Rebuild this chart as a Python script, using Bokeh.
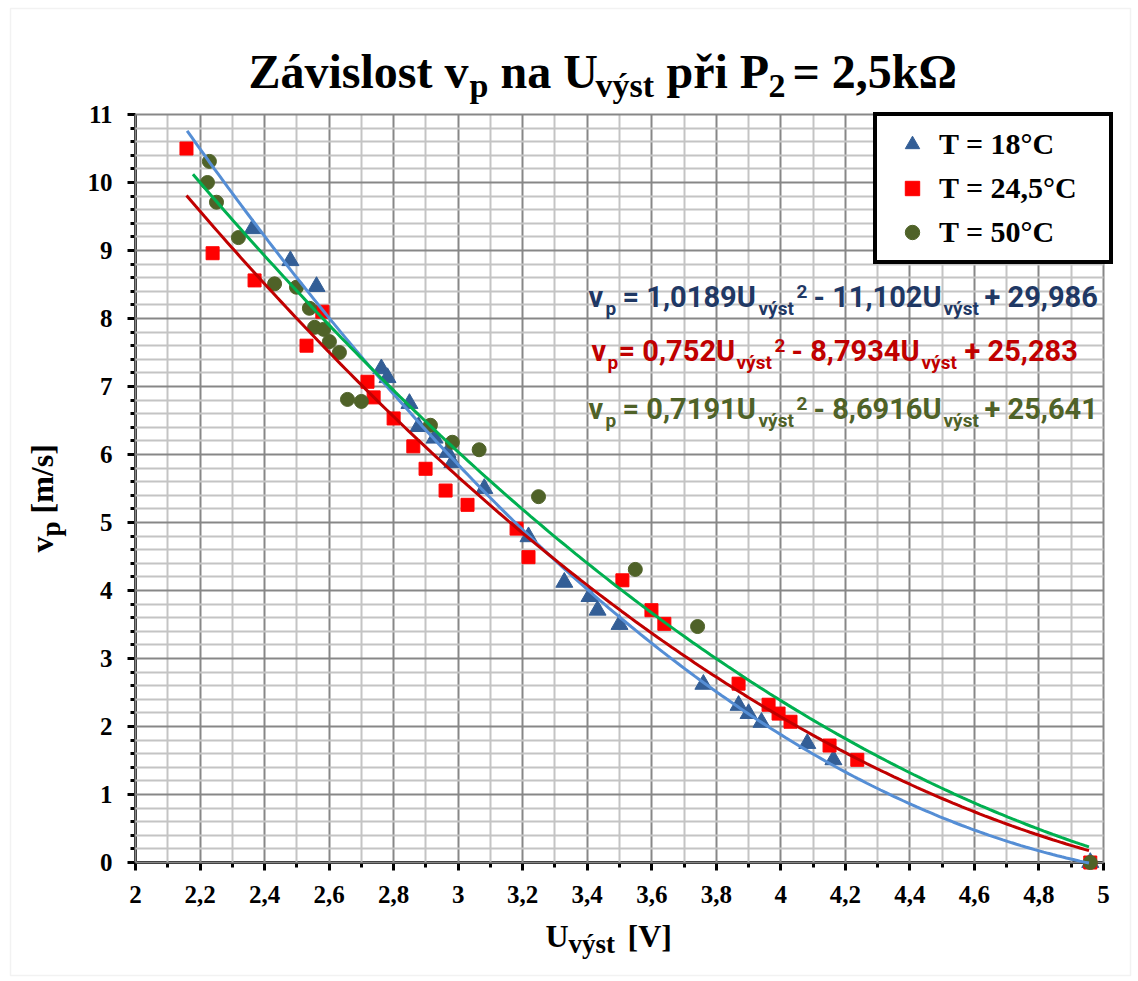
import numpy as np
from bokeh.plotting import figure
from bokeh.models import (Range1d, FixedTicker, Label, Legend, LegendItem, LinearAxis, Grid,
                          BoxAnnotation)
from bokeh.embed import file_html
from bokeh.resources import INLINE

# ---------------- data ----------------
u_18 = [2.363, 2.480, 2.561, 2.762, 2.781, 2.849, 2.877, 2.927, 2.967, 2.982, 3.081,
        3.218, 3.329, 3.407, 3.432, 3.500, 3.760, 3.869, 3.900, 3.940, 4.082, 4.163, 4.959]
v_18 = [9.32, 8.85, 8.47, 7.26, 7.13, 6.75, 6.41, 6.24, 6.03, 5.88, 5.50,
        4.79, 4.12, 3.91, 3.71, 3.50, 2.62, 2.31, 2.19, 2.06, 1.75, 1.51, 0.0]

u_245 = [2.158, 2.239, 2.369, 2.579, 2.530, 2.719, 2.738, 2.800, 2.861, 2.899, 2.961, 3.029,
         3.181, 3.218, 3.509, 3.599, 3.639, 3.869, 3.962, 3.993, 4.030, 4.151, 4.237, 4.959]
v_245 = [10.50, 8.96, 8.56, 8.10, 7.60, 7.07, 6.84, 6.53, 6.12, 5.79, 5.47, 5.26,
         4.91, 4.49, 4.15, 3.71, 3.51, 2.63, 2.32, 2.19, 2.07, 1.72, 1.51, 0.0]

u_50 = [2.229, 2.223, 2.251, 2.319, 2.431, 2.499, 2.539, 2.555, 2.583, 2.601, 2.632,
        2.657, 2.700, 2.914, 2.982, 3.065, 3.249, 3.549, 3.742, 4.959]
v_50 = [10.31, 10.00, 9.71, 9.19, 8.51, 8.46, 8.15, 7.87, 7.84, 7.66, 7.50,
        6.81, 6.78, 6.43, 6.18, 6.07, 5.38, 4.31, 3.47, 0.0]

# quadratic trendline coefficients as printed on the chart
coef_18 = [1.0189, -11.102, 29.986]
coef_245 = [0.752, -8.7934, 25.283]
coef_50 = [0.7191, -8.6916, 25.641]
span_18 = [2.160, 4.955]
span_245 = [2.158, 4.955]
span_50 = [2.178, 4.955]

series_names = ["T = 18°C", "T = 24,5°C", "T = 50°C"]

x_ticks = [2.0, 2.2, 2.4, 2.6, 2.8, 3.0, 3.2, 3.4, 3.6, 3.8, 4.0, 4.2, 4.4, 4.6, 4.8, 5.0]
x_tick_labels = ["2", "2,2", "2,4", "2,6", "2,8", "3", "3,2", "3,4", "3,6", "3,8",
                 "4", "4,2", "4,4", "4,6", "4,8", "5"]
x_minor_ticks = [2.1, 2.3, 2.5, 2.7, 2.9, 3.1, 3.3, 3.5, 3.7, 3.9, 4.1, 4.3, 4.5, 4.7, 4.9]
y_ticks = [0, 1, 2, 3, 4, 5, 6, 7, 8, 9, 10, 11]
y_tick_labels = ["0", "1", "2", "3", "4", "5", "6", "7", "8", "9", "10", "11"]
y_minor_ticks = [round(i * 0.2, 1) for i in range(56) if i % 5 != 0]
x_bounds = (2, 5)
y_bounds = (0, 11)

# ---------------- colours / fonts ----------------
C_TRI = "#335E96"
C_SQ = "#FF0000"
C_CIR = "#4F6228"
L_BLUE = "#558ED5"
L_RED = "#C00000"
L_GREEN = "#00B050"
T_BLUE = "#1F3864"
T_RED = "#C00000"
T_GREEN = "#4F6228"
SERIF = "Liberation Serif"
SANS = "Roboto"

# ---------------- page pixel <-> data mapping ----------------
W, H = 1138, 981
PX0, PX1, PY0, PY1 = 135.0, 1103.0, 862.0, 114.0


def dx(px):
    return x_bounds[0] + (px - PX0) * (x_bounds[1] - x_bounds[0]) / (PX1 - PX0)


def dy(py):
    return y_bounds[0] + (py - PY0) * (y_bounds[1] - y_bounds[0]) / (PY1 - PY0)


p = figure(width=W, height=H, min_border=0, min_border_left=0, min_border_right=0,
           min_border_top=0, min_border_bottom=0,
           x_range=Range1d(dx(0), dx(W)), y_range=Range1d(dy(H), dy(0)),
           x_axis_location=None, y_axis_location=None,
           output_backend="svg", toolbar_location=None,
           background_fill_color="white", border_fill_color="white")
p.title = None
p.outline_line_color = None
p.xgrid.visible = False
p.ygrid.visible = False

xaxis = LinearAxis(fixed_location=y_bounds[0], bounds=x_bounds,
                   ticker=FixedTicker(ticks=x_ticks, minor_ticks=x_minor_ticks))
yaxis = LinearAxis(fixed_location=x_bounds[0], bounds=y_bounds,
                   ticker=FixedTicker(ticks=y_ticks, minor_ticks=y_minor_ticks))

xgrid = Grid(dimension=0, ticker=xaxis.ticker, bounds=x_bounds, cross_bounds=y_bounds)
ygrid = Grid(dimension=1, ticker=yaxis.ticker, bounds=y_bounds, cross_bounds=x_bounds)
for g in (xgrid, ygrid):
    g.grid_line_color = "#878787"
    g.grid_line_width = 2
    g.minor_grid_line_color = "#c4c4c4"
    g.minor_grid_line_width = 2
    p.add_layout(g)

for ax, ticks, labels in ((xaxis, x_ticks, x_tick_labels), (yaxis, y_ticks, y_tick_labels)):
    ax.major_label_overrides = {t: l for t, l in zip(ticks, labels)}
    ax.axis_line_color = "black"
    ax.axis_line_width = 3
    ax.major_tick_line_color = "black"
    ax.major_tick_line_width = 3
    ax.minor_tick_line_color = "black"
    ax.minor_tick_line_width = 3
    ax.major_tick_in = 0
    ax.minor_tick_in = 0
    ax.major_tick_out = 8
    ax.minor_tick_out = 5
    ax.major_label_text_font = SERIF
    ax.major_label_text_font_style = "bold"
    ax.major_label_text_font_size = "25px"
    ax.major_label_text_color = "black"
    ax.major_label_standoff = 15
    ax.level = "underlay"
p.add_layout(xaxis, "below")
p.add_layout(yaxis, "left")

# outer chart border
p.add_layout(BoxAnnotation(left=dx(10), right=dx(1130), top=dy(8), bottom=dy(975),
                           fill_alpha=0, line_color="#d4d4d4", line_width=1.5, level="underlay"))

# markers
r18 = p.scatter(u_18, v_18, marker="triangle", size=17, fill_color=C_TRI, line_color=C_TRI)
r245 = p.scatter(u_245, v_245, marker="square", size=13, fill_color=C_SQ, line_color=C_SQ)
r50 = p.scatter(u_50, v_50, marker="circle", size=14, fill_color=C_CIR, line_color=C_CIR)

# trendlines (from the printed equations)
for coef, span, col in ((coef_18, span_18, L_BLUE), (coef_245, span_245, L_RED), (coef_50, span_50, L_GREEN)):
    xs = np.linspace(span[0], span[1], 200)
    p.line(xs, np.polyval(coef, xs), line_color=col, line_width=3)

LEG_W, LEG_H = 232, 150
legend = Legend(items=[LegendItem(label=series_names[0], renderers=[r18]),
                       LegendItem(label=series_names[1], renderers=[r245]),
                       LegendItem(label=series_names[2], renderers=[r50])],
                location=(PX1 + 2 - LEG_W, H - (PY1 + LEG_H)), margin=0, padding=10, spacing=8,
                glyph_width=50, glyph_height=36, label_height=36, label_standoff=2,
                label_width=160,
                label_text_font=SERIF, label_text_font_style="bold", label_text_font_size="30px",
                label_text_baseline="middle", label_text_color="black",
                border_line_color="black", border_line_width=4, border_line_alpha=1.0,
                background_fill_color="white", background_fill_alpha=1.0)
p.add_layout(legend)


def lab(px, base, text, size, color, font, vertical=False):
    """Place text so that its alphabetic baseline sits at page pixel `base`."""
    mid = base - 0.34 * size
    if vertical:
        x, y, ang = dx(mid), dy(px), np.pi / 2
    else:
        x, y, ang = dx(px), dy(mid), 0.0
    p.add_layout(Label(x=x, y=y, text=text, text_font=font,
                       text_font_size=f"{size}px", text_font_style="bold",
                       text_color=color, text_align="left", text_baseline="middle",
                       angle=ang))


# title
TB, TS = 87, 97
lab(248, TB, "Závislost v", 48, "black", SERIF)
lab(469, TS, "p", 34, "black", SERIF)
lab(500, TB, "na U", 48, "black", SERIF)
lab(595, TS, "výst", 34, "black", SERIF)
lab(666, TB, "při P", 48, "black", SERIF)
lab(768, TS, "2", 34, "black", SERIF)
lab(792, TB, "= 2,5kΩ", 48, "black", SERIF)

# axis titles
lab(545, 946, "U", 32, "black", SERIF)
lab(568, 953, "výst", 27, "black", SERIF)
lab(627, 946, "[V]", 32, "black", SERIF)
lab(552, 52, "v", 32, "black", SERIF, vertical=True)
lab(536, 60, "p", 27, "black", SERIF, vertical=True)
lab(513, 52, "[m/s]", 32, "black", SERIF, vertical=True)

# equations
MS, SS = 29, 19


def equation(base, color, parts, xs):
    v, sub1, mid1, sub2, sup, mid2, sub3, end = parts
    lab(xs[0], base, v, MS, color, SANS)
    lab(xs[1], base + 8, sub1, SS, color, SANS)
    lab(xs[2], base, mid1, MS, color, SANS)
    lab(xs[3], base + 8, sub2, SS, color, SANS)
    lab(xs[4], base - 9, sup, SS, color, SANS)
    lab(xs[5], base, mid2, MS, color, SANS)
    lab(xs[6], base + 8, sub3, SS, color, SANS)
    lab(xs[7], base, end, MS, color, SANS)


equation(306, T_BLUE, ["v", "p", "= 1,0189U", "výst", "2", "- 11,102U", "výst", "+ 29,986"],
         [588, 605, 622, 758, 796, 813, 943, 984])
equation(360, T_RED, ["v", "p", "= 0,752U", "výst", "2", "- 8,7934U", "výst", "+ 25,283"],
         [591, 607, 618, 736, 774, 791, 921, 964])
equation(418, T_GREEN, ["v", "p", "= 0,7191U", "výst", "2", "- 8,6916U", "výst", "+ 25,641"],
         [588, 605, 622, 758, 796, 813, 943, 984])

open("out.html", "w").write(file_html(p, INLINE))
